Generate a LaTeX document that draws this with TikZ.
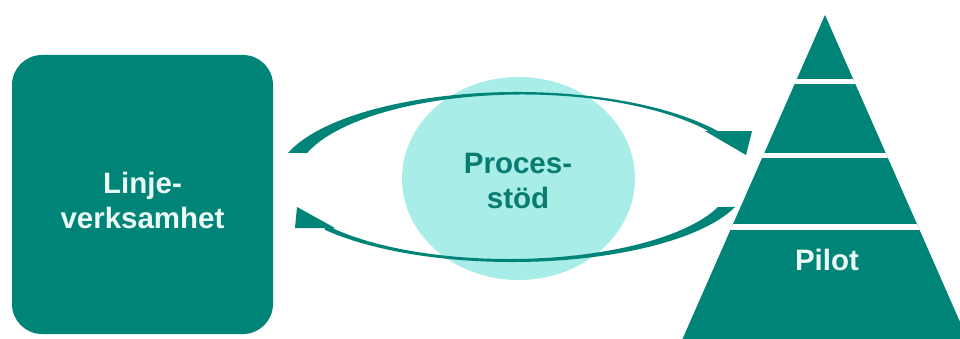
\documentclass[tikz,border=0pt]{standalone}
\usepackage{fontspec}
\setmainfont{Liberation Sans}
\usetikzlibrary{shapes.geometric,calc}
\definecolor{tealM}{RGB}{0,132,120}
\definecolor{tealT}{RGB}{8,124,113}
\definecolor{cyanL}{RGB}{168,237,231}
\definecolor{txtW}{RGB}{236,250,247}
\begin{document}
\begin{tikzpicture}[x=1pt,y=1pt,
  lbl/.style={font=\bfseries\fontsize{29.5}{35}\selectfont, align=center, inner sep=0pt},
  arrowfill/.style={fill=tealM},
  gapline/.style={draw=white, line width=5.5pt}]
\useasboundingbox (0,0) rectangle (960,338);
% left box
\node[fill=tealM, rounded corners=30pt, minimum width=261pt, minimum height=279pt, inner sep=0pt] (lv) at (142.5,143.5) {};
\node[lbl, text=txtW] (lvt) at ($(lv.center)+(0,-6)$) {Linje-\\verksamhet};
% central ellipse
\node[ellipse, fill=cyanL, minimum width=233pt, minimum height=203pt, inner sep=0pt] (ps) at (518.5,159.5) {};
% top curved arrow
\fill[arrowfill] ($(517.4,158)+(162.1:241pt and 88pt)$)
  arc[start angle=162.1, end angle=32.8, x radius=241pt, y radius=88pt]
  -- ($(522.4,158)+(29.5:227pt and 85.5pt)$)
  arc[start angle=29.5, end angle=161.6, x radius=227pt, y radius=85.5pt] -- cycle;
\coordinate (h1a) at (705,207);
\coordinate (h1b) at (752,207);
\coordinate (h1c) at (746,183);
\fill[arrowfill] (h1a) -- (h1b) -- (h1c) -- cycle;
% bottom curved arrow
\fill[arrowfill] ($(512.3,158)+(340.8:235.9pt and 82pt)$)
  arc[start angle=340.8, end angle=217.4, x radius=235.9pt, y radius=82pt]
  -- ($(508.9,158)+(214.3:222.5pt and 79pt)$)
  arc[start angle=214.3, end angle=340, x radius=222.5pt, y radius=79pt] -- cycle;
\coordinate (h2a) at (335,110);
\coordinate (h2b) at (295,110);
\coordinate (h2c) at (297,131);
\fill[arrowfill] (h2a) -- (h2b) -- (h2c) -- cycle;
\node[lbl, text=tealT] (pst) at (518,157.5) {Proces-\\stöd};
% pyramid
\coordinate (apex) at (825,323);
\coordinate (bl) at (679.4,-8);
\coordinate (br) at (970.6,-8);
\fill[tealM] (apex) -- (bl) -- (br) -- cycle;
\begin{scope}
  \clip (apex) -- (bl) -- (br) -- cycle;
  \draw[gapline] (670,256.5) -- (980,256.5);
  \draw[gapline] (670,182.5) -- (980,182.5);
  \draw[gapline] (670,111) -- (980,111);
\end{scope}
\node[lbl, text=txtW] (pilot) at (827,78) {Pilot};
\end{tikzpicture}
\end{document}
